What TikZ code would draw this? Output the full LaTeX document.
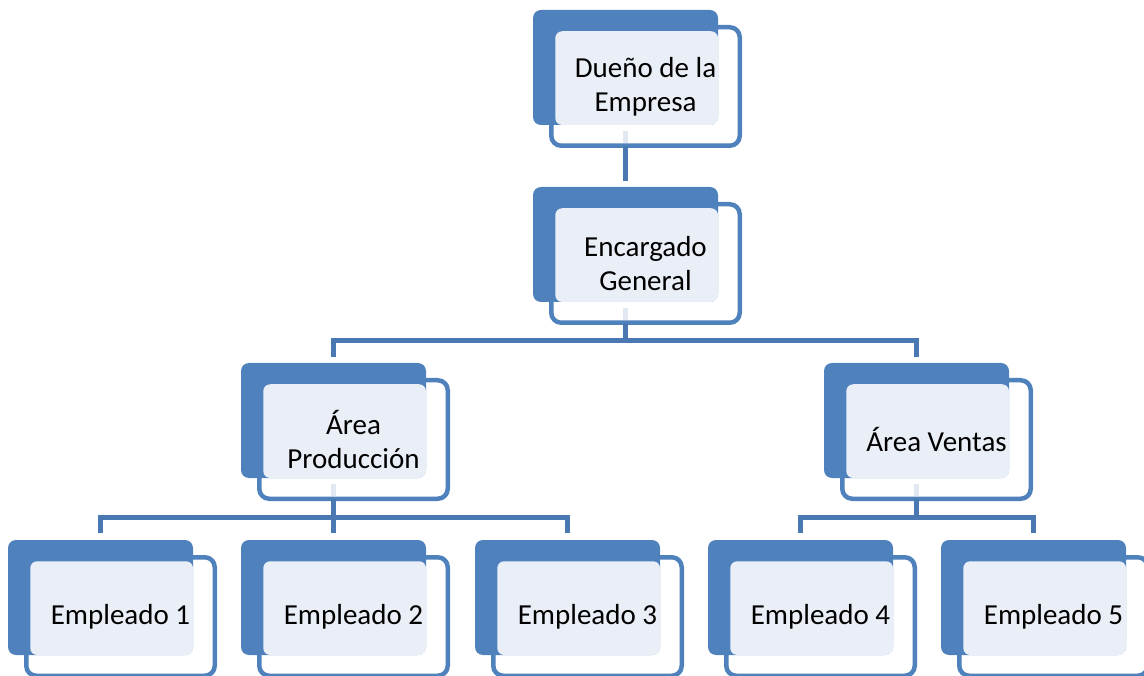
\documentclass[tikz,border=0pt]{standalone}
\usepackage{fontspec}
\setmainfont{Carlito}
\definecolor{accent}{HTML}{4F81BD}
\definecolor{connc}{HTML}{4A78B2}
\definecolor{lightc}{HTML}{EAEFF7}
\definecolor{stubc}{HTML}{E2E8F2}
\tikzset{
  backbox/.style={rectangle, rounded corners=8pt, fill=accent, minimum width=185pt, minimum height=115pt, inner sep=0pt, outer sep=0pt},
  frontbox/.style={rectangle, rounded corners=10pt, draw=accent, line width=4.5pt, fill=white, minimum width=188.5pt, minimum height=118.5pt, inner sep=0pt, outer sep=0pt},
  lightfill/.style={fill=lightc, rounded corners=7pt},
  boxtext/.style={align=center, font=\fontsize{29}{34}\selectfont, text=black, inner sep=0pt},
  conn/.style={draw=connc, line width=5pt},
  stubline/.style={draw=stubc, line width=5pt}
}
\newcommand\orgunit[4]{%
  \node[frontbox] (#1f) at (#2+112.5, #3+76.5) {};
  \node[backbox] (#1) at (#2+92.5, #3+57.5) {};
  \fill[lightfill] ([shift={(4,4)}]#1f.north west) rectangle (#1.south east);
  \node[boxtext] (#1t) at (#1f.center) {#4};
}
\newcommand\orgstub[1]{%
  \draw[stubline] ([yshift=-6pt]#1.south) -- ([yshift=2.5pt]#1f.south -| #1.south);
}
\begin{document}
\begin{tikzpicture}[x=1pt, y=-1pt]
\useasboundingbox (0,0) rectangle (1144,676);
\clip (0,0) rectangle (1144,676);
\orgunit{dueno}{533}{10}{Dueño de la\\Empresa}
\orgunit{enc}{533}{187}{Encargado\\General}
\orgunit{prod}{241}{363}{Área\\Producción}
\orgunit{vent}{824}{363}{Área Ventas}
\orgunit{e1}{8}{540}{Empleado 1}
\orgunit{e2}{241}{540}{Empleado 2}
\orgunit{e3}{475}{540}{Empleado 3}
\orgunit{e4}{708}{540}{Empleado 4}
\orgunit{e5}{941}{540}{Empleado 5}
\orgstub{dueno}
\orgstub{enc}
\orgstub{prod}
\orgstub{vent}
% connectors
\draw[conn] (duenof.south -| dueno.south) -- ([yshift=6pt]enc.north);
\draw[conn] (encf.south -| enc.south) -- ++(0,18) coordinate (encj) -| ([yshift=6pt]prod.north);
\draw[conn] (encj) -| ([yshift=6pt]vent.north);
\draw[conn] (prodf.south -| prod.south) -- ++(0,19) coordinate (prodj) -| ([yshift=7pt]e1.north);
\draw[conn] (prodj) -- ([yshift=7pt]e2.north);
\draw[conn] (prodj) -| ([yshift=7pt]e3.north);
\draw[conn] (ventf.south -| vent.south) -- ++(0,19) coordinate (ventj) -| ([yshift=7pt]e4.north);
\draw[conn] (ventj) -| ([yshift=7pt]e5.north);
\end{tikzpicture}
\end{document}
